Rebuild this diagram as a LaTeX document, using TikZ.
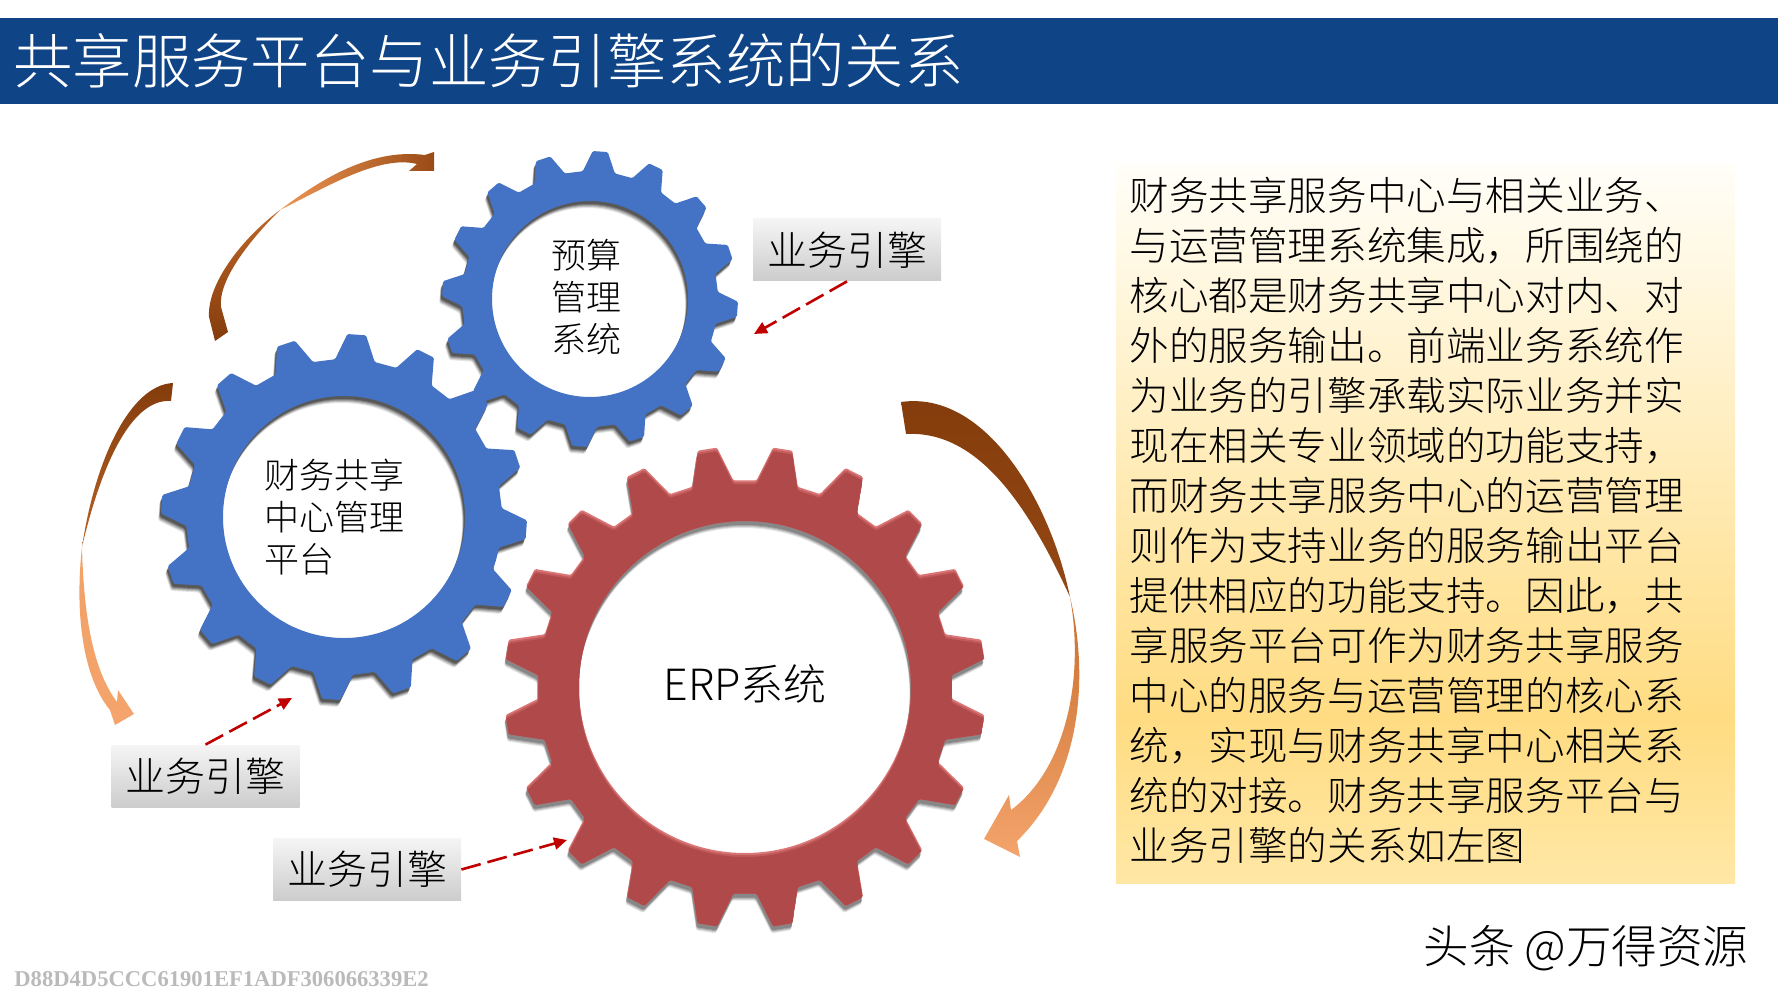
\documentclass[tikz,border=0pt]{standalone}
\usepackage{fontspec}
\setmainfont{Noto Sans CJK SC}[UprightFont=* Light]
\newfontfamily\hashfont{Liberation Serif}
\usetikzlibrary{positioning,arrows.meta}
\definecolor{headerblue}{HTML}{0F4487}
\definecolor{gearblue}{HTML}{4472C4}
\definecolor{gearred}{HTML}{B04A4A}
\definecolor{gearredmid}{HTML}{C25C5C}
\definecolor{gearredlight}{HTML}{DB7676}
\definecolor{linkred}{HTML}{C00000}
\definecolor{brownend}{HTML}{843C0C}
\definecolor{orangemid}{HTML}{ED8A40}
\definecolor{orangeend}{HTML}{F4A46C}
\pgfdeclareverticalshading{panelfade}{100bp}{rgb(0bp)=(1,.906,.647);rgb(25bp)=(1,.906,.647);rgb(36.5bp)=(1,.863,.51);rgb(75bp)=(1,.996,.973);rgb(100bp)=(1,.996,.973)}
\tikzset{
  x=.5pt,y=.5pt,
  gearlabel/.style = {align=left,inner sep=0,text=black,font=\fontsize{17.5}{21}\selectfont},
  labelbox/.style = {minimum width=94pt,minimum height=31pt,inner sep=0,top color=black!4,bottom color=black!20,font=\fontsize{20}{24}\selectfont},
  dashlink/.style = {draw=linkred,line width=1.3pt,dash pattern=on 10pt off 3.5pt,-{Triangle[length=6.5pt,width=6pt]}}
}
\newcommand{\gearring}[5]{
  (#5-.5*360/#4:#2)
  \foreach \k [evaluate=\k as \a using #5+\k*360/#4, evaluate=\k as \p using 360/#4] in {0,...,\numexpr#4-1\relax} {
    -- (\a-.32*\p:#2) -- (\a-.13*\p:#3) -- (\a+.13*\p:#3) -- (\a+.32*\p:#2)
  } -- cycle (0,0) circle (#1)
}
\newcommand{\bluegear}[6]{
  \begin{scope}[shift={(#1,-#2)},rounded corners=.7pt]
    \foreach \s/\o in {7/.10,6/.14,5/.18,4/.22,3/.3} {
      \fill[black,opacity=\o,even odd rule,shift={(-.4*\s,-\s)}] \gearring{#3}{#4}{#5}{16}{#6};
    }
    \fill[gearblue,even odd rule] \gearring{#3}{#4}{#5}{16}{#6};
  \end{scope}
}
\begin{document}
\begin{tikzpicture}
  \useasboundingbox (0,0) rectangle (1778,-1000);
  \fill[headerblue] (0,-18) rectangle (1778,-104);
  \node (title) [anchor=west,inner sep=0,text=white,font=\fontsize{29.7}{34}\selectfont] at (13,-61) {共享服务平台与业务引擎系统的关系};
  % arrows round the gears
  \shade[bottom color=brownend,top color=brownend!45!orangemid] (215,-341) -- (209,-317) .. controls (207,-285) and (240,-240) .. (280,-210) .. controls (250,-240) and (218,-280) .. (221,-307) -- (228,-332) -- cycle;
  \shade[left color=orangemid!90!white,right color=brownend!80!orangemid] (280,-210) .. controls (320,-180) and (370,-148) .. (425,-155) -- (434,-152) -- (434,-171) -- (409,-171) -- (417,-164) .. controls (380,-155) and (330,-185) .. (280,-210) -- cycle;
  \shade[top color=brownend,bottom color=brownend!50!orangemid] (173,-383) .. controls (130,-385) and (95,-460) .. (82,-547) .. controls (100,-470) and (130,-398) .. (171,-401) -- cycle;
  \shade[top color=orangemid!80!white,bottom color=orangeend] (82,-547) .. controls (74,-620) and (85,-680) .. (110,-710) -- (115,-725) -- (134,-714) -- (118,-690) -- (117,-702) .. controls (97,-675) and (84,-630) .. (82,-547) -- cycle;
  \shade[top color=brownend,bottom color=brownend!85!orangemid] (901,-402) .. controls (985,-390) and (1050,-500) .. (1070,-597) .. controls (1030,-510) and (980,-430) .. (906,-434) -- cycle;
  \shade[top color=brownend!35!orangemid,middle color=orangemid,bottom color=orangeend] (1070,-597) .. controls (1090,-680) and (1080,-780) .. (1017,-841) -- (1020,-857) -- (984,-839) -- (1009,-795) -- (1011,-810) .. controls (1065,-770) and (1085,-680) .. (1070,-597) -- cycle;
  % gears
  \bluegear{590}{299}{98}{128}{148}{-4}
  \bluegear{344}{517}{121}{158}{183}{-4}
  \begin{scope}[shift={(745,-687)},rounded corners=.7pt]
    \foreach \s/\o in {7/.1,6/.12,5/.16,4/.2} {
      \fill[black,opacity=\o,even odd rule,shift={(-.2*\s,-\s)}] \gearring{166}{207}{241}{20}{9};
    }
    \fill[gearredlight,even odd rule] \gearring{166}{207}{241}{20}{9};
    \begin{scope}[even odd rule]
      \clip \gearring{166}{207}{241}{20}{9};
      \fill[gearredmid,shift={(0,-2)}] \gearring{166}{207}{241}{20}{9};
      \fill[gearred,shift={(0,-4)}] \gearring{166}{207}{241}{20}{9};
    \end{scope}
  \end{scope}
  \node (budget) [gearlabel] at (586,-297) {预算\\管理\\系统};
  \node (platform) [gearlabel] at (334,-517) {财务共享\\中心管理\\平台};
  \node (erp) [gearlabel,font=\fontsize{21.5}{26}\selectfont] at (745,-684) {ERP系统};
  % engine labels and links
  \node (engineA) [labelbox] at (847,-250) {业务引擎};
  \node (engineB) [labelbox] at (205.5,-776) {业务引擎};
  \node (engineC) [labelbox] at (367,-869.5) {业务引擎};
  \coordinate (targetA) at (754,-334);
  \coordinate (targetB) at (292,-698);
  \coordinate (targetC) at (567,-840);
  \draw[dashlink] (engineA.south) -- (targetA);
  \draw[dashlink] (engineB.north) -- (targetB);
  \draw[dashlink] (engineC.east) -- (targetC);
  % text panel
  \shade[shading=panelfade] (1116,-164) rectangle (1735,-883);
  \node (bodytext) [anchor=north west,inner sep=0,align=left,text=black,font=\fontsize{19.8}{25}\selectfont] at (1129,-177) {财务共享服务中心与相关业务、\\
    与运营管理系统集成，所围绕的\\
    核心都是财务共享中心对内、对\\
    外的服务输出。前端业务系统作\\
    为业务的引擎承载实际业务并实\\
    现在相关专业领域的功能支持，\\
    而财务共享服务中心的运营管理\\
    则作为支持业务的服务输出平台\\
    提供相应的功能支持。因此，共\\
    享服务平台可作为财务共享服务\\
    中心的服务与运营管理的核心系\\
    统，实现与财务共享中心相关系\\
    统的对接。财务共享服务平台与\\
    业务引擎的关系如左图};
  \node (hashcode) [anchor=west,inner sep=0,text=black!27,font=\hashfont\bfseries\fontsize{11.3}{14}\selectfont] at (14,-979) {D88D4D5CCC61901EF1ADF306066339E2};
  \node (mark) [anchor=west,inner sep=0,font=\fontsize{22.8}{26}\selectfont] at (1423,-948) {头条 @万得资源};
\end{tikzpicture}
\end{document}
